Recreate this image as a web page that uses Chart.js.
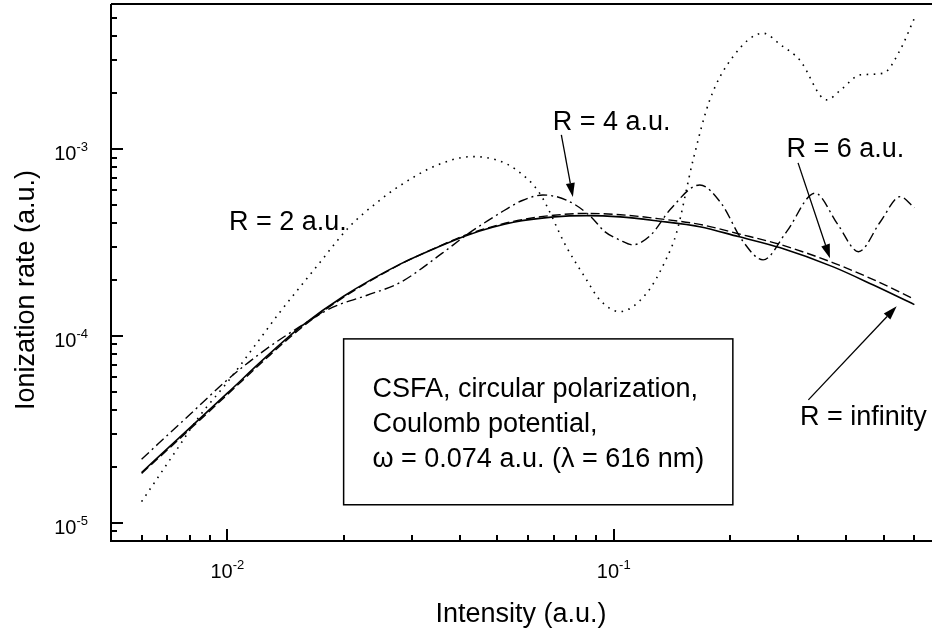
<!DOCTYPE html>
<html>
<head>
<meta charset="utf-8">
<script src="https://cdn.jsdelivr.net/npm/chart.js@4.4.1/dist/chart.umd.min.js"></script>
<style>
  html, body { margin: 0; padding: 0; background: #fff; }
  canvas { display: block; }
</style>
</head>
<body>
<canvas id="grafica" width="932" height="637"></canvas>
<script>
// valores (intensidad y tasa en unidades atomicas)
const rInfX = [0.006, 0.0075, 0.01, 0.0125, 0.0155, 0.02, 0.028, 0.035, 0.042, 0.055, 0.07, 0.085, 0.104, 0.13, 0.167, 0.21, 0.27, 0.37, 0.47, 0.6];
const rInfY = [1.86e-5, 2.85e-5, 4.94e-5, 7.6e-5, 1.12e-4, 1.63e-4, 2.42e-4, 2.98e-4, 3.47e-4, 4.05e-4, 4.33e-4, 4.4e-4, 4.33e-4, 4.12e-4, 3.84e-4, 3.4e-4, 2.96e-4, 2.34e-4, 1.87e-4, 1.47e-4];

const r6X = [0.006, 0.0075, 0.01, 0.0125, 0.0155, 0.02, 0.028, 0.035, 0.042, 0.055, 0.07, 0.085, 0.104, 0.13, 0.167, 0.21, 0.27, 0.37, 0.47, 0.6];
const r6Y = [1.84e-5, 2.8e-5, 4.85e-5, 7.45e-5, 1.1e-4, 1.61e-4, 2.41e-4, 2.99e-4, 3.5e-4, 4.1e-4, 4.42e-4, 4.52e-4, 4.45e-4, 4.24e-4, 3.95e-4, 3.52e-4, 3.08e-4, 2.46e-4, 2.0e-4, 1.57e-4];

const r4X = [0.006, 0.008, 0.01, 0.0125, 0.0154, 0.0187, 0.023, 0.028, 0.036, 0.0416, 0.0507, 0.058, 0.0656, 0.0754, 0.0867, 0.095, 0.1036, 0.112, 0.125, 0.14, 0.167, 0.19, 0.215, 0.2436, 0.28, 0.332, 0.38, 0.43, 0.49, 0.551, 0.6];
const r4Y = [2.19e-5, 3.8e-5, 5.82e-5, 8.4e-5, 1.12e-4, 1.42e-4, 1.65e-4, 1.93e-4, 2.77e-4, 3.47e-4, 4.53e-4, 5.3e-4, 5.67e-4, 5.33e-4, 4.4e-4, 3.6e-4, 3.26e-4, 3.07e-4, 3.48e-4, 4.74e-4, 6.42e-4, 5.1e-4, 3.25e-4, 2.55e-4, 3.6e-4, 5.8e-4, 3.95e-4, 2.82e-4, 4.08e-4, 5.56e-4, 4.85e-4];

const r2X = [0.006, 0.0075, 0.00846, 0.01, 0.0118, 0.0136, 0.0154, 0.0173, 0.0207, 0.0245, 0.0279, 0.035, 0.043, 0.05, 0.056, 0.0643, 0.0754, 0.085, 0.092, 0.1036, 0.1216, 0.137, 0.1453, 0.1605, 0.1773, 0.2037, 0.2436, 0.27, 0.303, 0.3556, 0.39, 0.434, 0.4985, 0.551, 0.6];
const r2Y = [1.30e-5, 2.57e-5, 3.71e-5, 5.65e-5, 8.9e-5, 1.32e-4, 1.82e-4, 2.45e-4, 3.84e-4, 5.21e-4, 6.34e-4, 8.21e-4, 9.1e-4, 8.7e-4, 7.72e-4, 5.8e-4, 3.0e-4, 2.0e-4, 1.56e-4, 1.35e-4, 1.69e-4, 2.6e-4, 3.54e-4, 8.73e-4, 1.83e-3, 3.12e-3, 4.16e-3, 3.61e-3, 2.99e-3, 1.83e-3, 2.1e-3, 2.49e-3, 2.54e-3, 3.38e-3, 5.0e-3];

// exponentes de las etiquetas de los ejes
const xTickExps = [-2, -1];
const yTickExps = [-5, -4, -3];

const fuente = '"Liberation Sans", Arial, sans-serif';

// textos sobre la grafica, en coordenadas de datos
const etiquetas = [
  { texto: "R = 2 a.u.", x: 0.0101, y: 3.69e-4 },
  { texto: "R = 4 a.u.", x: 0.0695, y: 1.26e-3 },
  { texto: "R = 6 a.u.", x: 0.280, y: 9.06e-4 },
  { texto: "R = infinity", x: 0.3034, y: 3.34e-5 }
];
const flechas = [
  { x0: 0.0732, y0: 1.19e-3, x1: 0.0784, y1: 5.53e-4 },
  { x0: 0.300, y0: 8.42e-4, x1: 0.3628, y1: 2.60e-4 },
  { x0: 0.319, y0: 4.55e-5, x1: 0.540, y1: 1.44e-4 }
];
const caja = { x0: 0.02, x1: 0.2034, y0: 9.64e-5, y1: 1.25e-5 };
const cajaTexto = [
  { texto: "CSFA, circular polarization,", x: 0.02375, y: 4.72e-5 },
  { texto: "Coulomb potential,", x: 0.02375, y: 3.07e-5 },
  { texto: "\u03c9 = 0.074 a.u. (\u03bb = 616 nm)", x: 0.02375, y: 1.99e-5 }
];

function puntos(xs, ys) {
  return xs.map((x, i) => ({ x: x, y: ys[i] }));
}

function potencia(c, exp, x, y, alinear) {
  c.font = "20px " + fuente;
  const w10 = c.measureText("10").width;
  c.font = "13px " + fuente;
  const sup = String(exp);
  const wExp = c.measureText(sup).width;
  const total = w10 + wExp;
  let x0 = alinear === "center" ? x - total / 2 : x - total;
  c.textAlign = "left";
  c.textBaseline = "alphabetic";
  c.font = "20px " + fuente;
  c.fillText("10", x0, y);
  c.font = "13px " + fuente;
  c.fillText(sup, x0 + w10, y - 9);
}

function flecha(c, x0, y0, x1, y1) {
  const ang = Math.atan2(y1 - y0, x1 - x0);
  const largo = 14, ancho = 4.5;
  const bx = x1 - largo * Math.cos(ang), by = y1 - largo * Math.sin(ang);
  c.beginPath();
  c.moveTo(x0, y0);
  c.lineTo(bx, by);
  c.lineWidth = 1.3;
  c.stroke();
  c.beginPath();
  c.moveTo(x1, y1);
  c.lineTo(bx + ancho * Math.sin(ang), by - ancho * Math.cos(ang));
  c.lineTo(bx - ancho * Math.sin(ang), by + ancho * Math.cos(ang));
  c.closePath();
  c.fill();
}

const decoracion = {
  id: "decoracion",
  afterDraw(chart) {
    const c = chart.ctx;
    const sx = chart.scales.x, sy = chart.scales.y;
    const a = chart.chartArea;
    c.save();
    c.strokeStyle = "#000";
    c.fillStyle = "#000";
    c.lineCap = "butt";

    // ejes
    c.lineWidth = 2;
    c.beginPath();
    c.moveTo(a.left, a.top);
    c.lineTo(a.right + 2, a.top);
    c.moveTo(a.left, a.top);
    c.lineTo(a.left, a.bottom);
    c.lineTo(a.right + 2, a.bottom);
    c.stroke();

    // marcas hacia adentro
    c.lineWidth = 2;
    c.beginPath();
    for (let e = -3; e <= 0; e++) {
      for (let m = 1; m <= 9; m++) {
        const v = m * Math.pow(10, e);
        if (v < sx.min || v > sx.max) continue;
        const px = Math.round(sx.getPixelForValue(v));
        const l = m === 1 ? 12 : 6;
        c.moveTo(px, a.bottom);
        c.lineTo(px, a.bottom - l);
      }
    }
    for (let e = -6; e <= -2; e++) {
      for (let m = 1; m <= 9; m++) {
        const v = m * Math.pow(10, e);
        if (v < sy.min || v > sy.max) continue;
        const py = Math.round(sy.getPixelForValue(v));
        const l = m === 1 ? 12 : 6;
        c.moveTo(a.left, py);
        c.lineTo(a.left + l, py);
      }
    }
    c.stroke();

    // etiquetas de los ejes
    xTickExps.forEach(e => {
      potencia(c, e, sx.getPixelForValue(Math.pow(10, e)), a.bottom + 37, "center");
    });
    yTickExps.forEach(e => {
      potencia(c, e, a.left - 23, sy.getPixelForValue(Math.pow(10, e)) + 11, "right");
    });

    // titulos
    c.font = "27px " + fuente;
    c.textAlign = "center";
    c.textBaseline = "middle";
    c.fillText("Intensity (a.u.)", (a.left + a.right) / 2, 615);
    c.save();
    c.translate(27, 290);
    c.rotate(-Math.PI / 2);
    c.fillText("Ionization rate (a.u.)", 0, 0);
    c.restore();

    // caja de texto
    const bx0 = sx.getPixelForValue(caja.x0), bx1 = sx.getPixelForValue(caja.x1);
    const by0 = sy.getPixelForValue(caja.y0), by1 = sy.getPixelForValue(caja.y1);
    c.lineWidth = 1.5;
    c.strokeRect(bx0, by0, bx1 - bx0, by1 - by0);
    c.font = "27px " + fuente;
    c.textAlign = "left";
    c.textBaseline = "alphabetic";
    cajaTexto.forEach(t => {
      c.fillText(t.texto, sx.getPixelForValue(t.x), sy.getPixelForValue(t.y));
    });

    // etiquetas de curvas y flechas
    etiquetas.forEach(t => {
      c.fillText(t.texto, sx.getPixelForValue(t.x), sy.getPixelForValue(t.y));
    });
    flechas.forEach(f => {
      flecha(c, sx.getPixelForValue(f.x0), sy.getPixelForValue(f.y0),
        sx.getPixelForValue(f.x1), sy.getPixelForValue(f.y1));
    });
    c.restore();
  }
};

const comun = {
  borderColor: "#000",
  pointRadius: 0,
  fill: false,
  cubicInterpolationMode: "monotone"
};

new Chart(document.getElementById("grafica").getContext("2d"), {
  type: "line",
  data: {
    datasets: [
      Object.assign({ label: "R = infinity", data: puntos(rInfX, rInfY), borderWidth: 1.6 }, comun),
      Object.assign({ label: "R = 6 a.u.", data: puntos(r6X, r6Y), borderWidth: 1.4, borderDash: [9, 4] }, comun),
      Object.assign({ label: "R = 4 a.u.", data: puntos(r4X, r4Y), borderWidth: 1.4, borderDash: [10, 4, 2, 4] }, comun),
      Object.assign({ label: "R = 2 a.u.", data: puntos(r2X, r2Y), borderWidth: 1.6, borderDash: [1.6, 5.5] }, comun)
    ]
  },
  options: {
    responsive: false,
    animation: false,
    devicePixelRatio: 1,
    layout: { padding: { left: 111, top: 4, right: 1, bottom: 96 } },
    plugins: { legend: { display: false }, tooltip: { enabled: false } },
    scales: {
      x: { type: "logarithmic", min: 0.005, max: 0.6625, display: false },
      y: { type: "logarithmic", min: 8.0e-6, max: 5.96e-3, display: false }
    }
  },
  plugins: [decoracion]
});
</script>
</body>
</html>
